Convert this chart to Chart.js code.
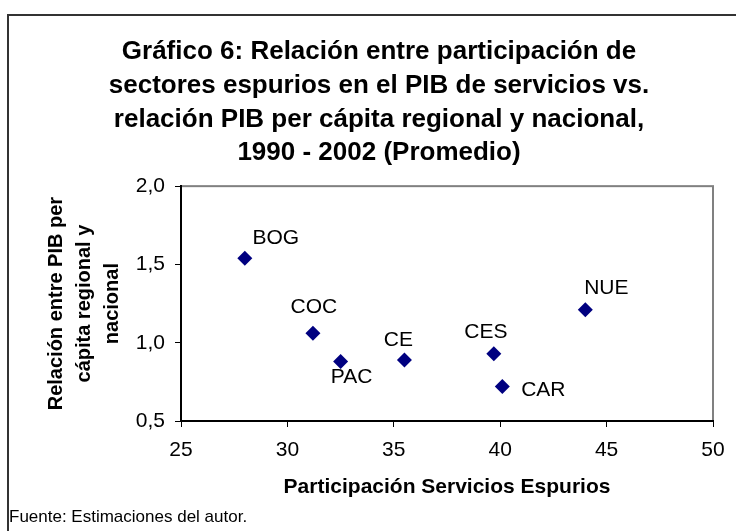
<!DOCTYPE html>
<html>
<head>
<meta charset="utf-8">
<script src="https://cdn.jsdelivr.net/npm/chart.js@4"></script>
<style>
    html, body { margin: 0; padding: 0; background: #fff; }
    #wrap { position: relative; width: 736px; height: 531px; overflow: hidden; }
    #frame { position: absolute; left: 7px; top: 14px; width: 760px; height: 600px; border: 2px solid #333; }
    #myChart { position: absolute; left: 0; top: 0; }
</style>
</head>
<body>
<div id="wrap">
    <div id="frame"></div>
    <canvas id="myChart" width="736" height="531"></canvas>
</div>
<script>
"use strict";

//data variables

const regions = ['BOG', 'COC', 'PAC', 'CE', 'CES', 'CAR', 'NUE'];   //point labels
const serviciosEspurios = [28.0, 31.2, 32.5, 35.5, 39.7, 40.1, 44.0]; //x: participación servicios espurios
const relacionPib = [1.54, 1.06, 0.88, 0.89, 0.93, 0.72, 1.21];     //y: relación PIB per cápita

const xTicks = [25, 30, 35, 40, 45, 50];
const yTicks = [0.5, 1.0, 1.5, 2.0];

const titleLines = [
    'Gráfico 6: Relación entre participación de',
    'sectores espurios en el PIB de servicios vs.',
    'relación PIB per cápita regional y nacional,',
    '1990 - 2002 (Promedio)'
];
const yTitleLines = ['Relación entre PIB per', 'cápita regional y', 'nacional'];
const xTitle = 'Participación Servicios Espurios';
const footerText = 'Fuente: Estimaciones del autor.';

//label offsets in px from each point (style only)
const labelOffsets = [[31, -20], [1, -26], [11, 16], [-6, -20], [-8, -21], [41, 4], [21, -22]];

const FONT = 'Arial, "Liberation Sans", sans-serif';

//plugins

//gray frame round the plot area (top/right), axes draw black over it
const plotFrame = {
    id: 'plotFrame',
    beforeDraw(chart) {
        const {ctx, chartArea: a} = chart;
        ctx.save();
        ctx.strokeStyle = '#808080';
        ctx.lineWidth = 2;
        ctx.strokeRect(a.left, a.top, a.right - a.left, a.bottom - a.top);
        ctx.restore();
    }
};

//text labels next to each diamond
const pointLabels = {
    id: 'pointLabels',
    afterDatasetsDraw(chart) {
        const {ctx} = chart;
        const meta = chart.getDatasetMeta(0);
        ctx.save();
        ctx.font = '21px ' + FONT;
        ctx.fillStyle = '#000';
        ctx.textAlign = 'center';
        ctx.textBaseline = 'middle';
        meta.data.forEach((pt, i) => {
            ctx.fillText(regions[i], pt.x + labelOffsets[i][0], pt.y + labelOffsets[i][1]);
        });
        ctx.restore();
    }
};

//source note under the chart
const footerNote = {
    id: 'footerNote',
    afterDraw(chart) {
        const {ctx} = chart;
        ctx.save();
        ctx.font = '17px ' + FONT;
        ctx.fillStyle = '#000';
        ctx.textAlign = 'left';
        ctx.textBaseline = 'middle';
        ctx.fillText(footerText, 9, 517);
        ctx.restore();
    }
};

//data setup for chart

const data = {
    datasets: [{
        label: 'regiones',
        data: serviciosEspurios.map((x, i) => ({x: x, y: relacionPib[i]})),
        pointStyle: 'rectRot',
        pointRadius: 7.5,
        pointHoverRadius: 7.5,
        backgroundColor: '#000080',
        borderColor: '#000080',
        borderWidth: 0,
        showLine: false
    }]
};

//config of chart display

const config = {
    type: 'scatter',
    data,
    plugins: [plotFrame, pointLabels, footerNote],
    options: {
        responsive: false,
        animation: false,
        layout: {
            padding: {left: 22, right: 0, top: 0, bottom: 31}
        },
        scales: {
            x: {
                type: 'linear',
                min: 25,
                max: 50,
                afterBuildTicks: (axis) => { axis.ticks = xTicks.map(v => ({value: v})); },
                afterFit: (axis) => { axis.height = 79; },
                border: {color: '#000', width: 2},
                grid: {drawOnChartArea: false, tickLength: 6, tickColor: '#000', tickWidth: 1},
                ticks: {
                    color: '#000',
                    padding: 11,
                    font: {family: FONT, size: 21}
                },
                title: {
                    display: true,
                    text: xTitle,
                    color: '#000',
                    padding: {top: 0, bottom: 0},
                    font: {family: FONT, size: 21, weight: 'bold', lineHeight: 1.2}
                }
            },
            y: {
                type: 'linear',
                min: 0.5,
                max: 2.0,
                afterBuildTicks: (axis) => { axis.ticks = yTicks.map(v => ({value: v})); },
                afterFit: (axis) => { axis.width = 159; },
                border: {color: '#000', width: 2},
                grid: {drawOnChartArea: false, tickLength: 6, tickColor: '#000', tickWidth: 1},
                ticks: {
                    color: '#000',
                    padding: 10,
                    font: {family: FONT, size: 21},
                    callback: function(value) {
                        return value.toFixed(1).replace('.', ',');
                    }
                },
                title: {
                    display: true,
                    text: yTitleLines,
                    color: '#000',
                    padding: {top: 20, bottom: 0},
                    font: {family: FONT, size: 20, weight: 'bold', lineHeight: 1.4}
                }
            },
            //empty right axis, only keeps the space right of the plot
            yRight: {
                type: 'linear',
                position: 'right',
                display: true,
                afterFit: (axis) => { axis.width = 23; },
                border: {display: false},
                grid: {display: false},
                ticks: {display: false}
            }
        },
        plugins: {
            legend: {display: false},
            tooltip: {enabled: false},
            title: {
                display: true,
                text: titleLines,
                color: '#000',
                padding: {top: 35.5, bottom: 16.5},
                font: {family: FONT, size: 26, weight: 'bold', lineHeight: 1.29}
            }
        }
    }
};

//rendering of chart
const myChart = new Chart(
    document.getElementById('myChart'),
    config
);
</script>
</body>
</html>
